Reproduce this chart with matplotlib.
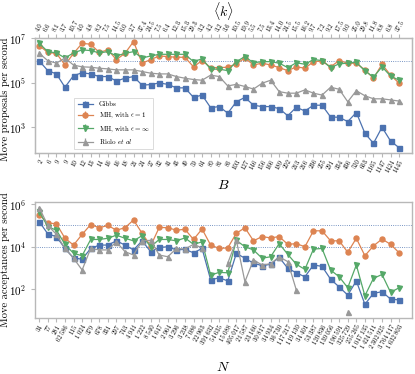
import numpy as np
import matplotlib
matplotlib.use("Agg")
import matplotlib.pyplot as plt

plt.rcParams['font.family'] = ['cmr10', 'DejaVu Serif']
plt.rcParams['mathtext.fontset'] = 'cm'
plt.rcParams['axes.formatter.use_mathtext'] = True

# --- tick labels ---
B_labels = ["2", "6", "9", "9", "10", "12", "13", "14", "16", "16",
            "18", "21", "24", "27", "32", "41", "43", "49", "59", "64",
            "80", "81", "86", "103", "127", "146", "156", "166", "189", "202",
            "213", "216", "236", "255", "291", "334", "436", "520", "663", "1165",
            "1147", "1424", "1445"]
k_labels = ["4.0", "6.6", "8.1", "3.7", "10.7", "4.0", "4.8", "8.2", "7.5", "14.5",
            "6.0", "2.7", "37.4", "24.5", "7.5", "6.4", "12.3", "15.3", "29.3", "3.2",
            "4.2", "3.2", "3.6", "10.5", "19.9", "5.5", "7.5", "13.4", "14.0", "24.5",
            "15.5", "16.2", "9.7", "7.2", "9.2", "17.5", "9.0", "25.0", "29.8", "11.8",
            "8.8", "6.8", "37.5"]
N_labels = ["34", "77", "281", "62\u2009586", "115", "1\u2009024", "379", "678", "331", "297",
            "743", "4\u2009941", "1\u2009222", "8\u2009540", "1\u2009647", "2\u2009964", "3\u2009296", "3\u2009238", "7\u2009086", "22\u2009963",
            "391\u2009632", "54\u2009635", "15\u2009088", "405\u2009017", "21\u2009587", "23\u2009166", "30\u2009817", "34\u2009934", "36\u2009730", "117\u2009217",
            "119\u2009130", "34\u2009401", "53\u2009387", "120\u2009836", "139\u2009056", "196\u2009591", "325\u2009729", "255\u2009265", "1\u2009047\u2009135", "1\u2009424\u2009511",
            "2\u2009302\u2009925", "3\u2009764\u2009117", "1\u2009632\u2009803"]

# --- move proposals per second ---
gibbs_prop = [9.5e5, 3.5e5, 2.5e5, 6.3e4, 2.1e5, 2.8e5, 2.5e5, 1.9e5, 1.9e5, 1.2e5,
              1.6e5, 1.9e5, 7.8e4, 8.3e4, 9.8e4, 8.5e4, 5.9e4, 5.9e4, 2.2e4, 2.8e4,
              7.6e3, 8.5e3, 4.3e3, 1.4e4, 2.2e4, 9.8e3, 8.5e3, 8.5e3, 6.9e3, 3.3e3,
              7.9e3, 5.4e3, 9.8e3, 9.8e3, 2.9e3, 2.8e3, 1.8e3, 4.6e3, 540, 190,
              1.0e3, 240, 120]
mh1_prop = [4.7e6, 2.3e6, 2.1e6, 6.3e5, 2.1e6, 5.9e6, 5.4e6, 2.3e6, 3.0e6, 1.1e6,
            2.1e6, 7.1e6, 7.6e5, 1.1e6, 1.6e6, 1.5e6, 1.4e6, 1.4e6, 5.2e5, 1.0e6,
            4.8e5, 4.8e5, 5.0e5, 7.1e5, 1.3e6, 6.3e5, 7.6e5, 6.3e5, 4.8e5, 3.5e5,
            5.2e5, 4.5e5, 8.9e5, 9.5e5, 5.2e5, 1.0e6, 7.6e5, 7.6e5, 3.8e5, 1.6e5,
            6.8e5, 2.2e5, 9.5e4]
mhinf_prop = [5.9e6, 2.5e6, 2.2e6, 1.3e6, 2.2e6, 3.0e6, 2.8e6, 2.2e6, 2.5e6, 1.6e6,
              2.1e6, 2.5e6, 1.3e6, 1.6e6, 1.9e6, 1.9e6, 1.9e6, 1.9e6, 8.9e5, 1.2e6,
              4.1e5, 4.1e5, 3.5e5, 8.9e5, 1.5e6, 7.9e5, 8.9e5, 8.9e5, 7.6e5, 4.8e5,
              7.9e5, 6.8e5, 1.1e6, 1.0e6, 4.8e5, 7.1e5, 7.6e5, 8.3e5, 3.4e5, 1.8e5,
              5.2e5, 2.0e5, 1.3e5]
riolo_prop = [2.1e6, 9.8e5, 7.6e5, 1.3e6, 6.2e5, 5.2e5, 5.0e5, 4.5e5, 4.2e5, 3.8e5,
              3.8e5, 3.8e5, 3.2e5, 2.7e5, 2.5e5, 2.5e5, 1.9e5, 1.6e5, 1.4e5, 1.3e5,
              2.2e5, 1.9e5, 7.2e4, 8.5e4, 6.8e4, 5.2e4, 9.5e4, 1.3e5, 4.0e4, 3.4e4,
              3.4e4, 4.8e4, 3.4e4, 2.8e4, 6.3e4, 5.1e4, 1.4e4, 4.4e4, 2.6e4, 1.9e4,
              1.9e4, 1.7e4, 1.5e4]

# --- move acceptances per second ---
gibbs_acc = [1.5e5, 4.0e4, 3.0e4, 8.3e3, 3.0e3, 2.6e3, 8.3e3, 1.2e4, 1.2e4, 1.9e4,
             1.2e4, 7.1e3, 1.9e4, 5.9e3, 9.3e3, 1.0e4, 7.1e3, 7.6e3, 5.2e3, 8.3e3,
             280, 350, 250, 4.9e3, 2.9e3, 1.7e3, 1.3e3, 1.5e3, 3.2e3, 980,
             600, 390, 1.4e3, 1.2e3, 300, 130, 54, 250, 20, 65,
             78, 35, 32]
mh1_acc = [3.1e5, 1.3e5, 1.2e5, 2.5e4, 1.2e4, 3.8e4, 1.1e5, 7.8e4, 1.0e5, 6.0e4,
           7.8e4, 1.8e5, 4.3e4, 1.1e4, 8.1e4, 7.8e4, 6.0e4, 6.6e4, 2.2e4, 6.8e4,
           1.2e4, 8.3e3, 8.9e3, 4.3e4, 7.8e4, 1.9e4, 3.0e4, 2.6e4, 3.0e4, 1.3e4,
           1.4e4, 1.0e4, 5.6e4, 5.6e4, 1.9e4, 1.9e4, 5.5e3, 2.5e4, 3.8e3, 1.1e4,
           2.3e4, 1.3e4, 5.2e3]
mhinf_acc = [4.4e5, 8.7e4, 6.0e4, 1.3e4, 4.9e3, 3.8e3, 2.2e4, 2.2e4, 2.5e4, 3.5e4,
             2.5e4, 1.9e4, 3.3e4, 1.0e4, 2.2e4, 2.2e4, 1.9e4, 2.6e4, 1.3e4, 1.7e4,
             470, 630, 600, 2.0e4, 1.0e4, 7.1e3, 2.9e3, 3.4e3, 1.4e4, 4.4e3,
             1.5e3, 870, 7.8e3, 8.3e3, 810, 390, 120, 1.4e3, 50, 330,
             500, 72, 120]
riolo_acc = [6.8e5, 1.0e5, 3.8e4, 8.3e3, 2.9e3, 810, 8.3e3, 7.1e3, 7.1e3, 1.7e4,
             5.9e3, 4.1e3, 1.9e4, 2.0e4, 4.1e3, 3.4e3, 8.3e3, 7.8e3, 1.3e4, 8.9e3,
             np.nan, np.nan, 1.7e3, 2.0e4, 230, 2.4e3, 1.4e3, 1.6e3, 3.4e3, 2.0e3,
             93, np.nan, np.nan, np.nan, np.nan, np.nan, 8.3, np.nan, np.nan, np.nan,
             np.nan, np.nan, np.nan]

names = ["Gibbs", r"MH, with $\epsilon=1$", r"MH, with $\epsilon=\infty$", r"Riolo $et$ $al$"]
colors = ["#4c72b0", "#dd8452", "#55a868", "#999999"]
markers = ["s", "o", "v", "^"]
spine_col = "#b8b8b8"

fig = plt.figure(figsize=(4.15, 3.74), dpi=100)
ax1 = fig.add_axes([0.0843, 0.591, 0.9085, 0.3067])
ax2 = fig.add_axes([0.0843, 0.1489, 0.9085, 0.3118])

x = np.arange(len(B_labels))


def draw(ax, series, hlines, ylim, yticks):
    for vals, name, c, m in zip(series, names, colors, markers):
        ax.errorbar(x, vals, yerr=0, color=c, marker=m, markersize=3.6,
                    lw=0.9, elinewidth=0.9, label=name)
    for h in hlines:
        ax.axhline(h, color="#4c72b0", lw=0.6, ls=":", zorder=0)
    ax.set_yscale("log")
    ax.set_ylim(*ylim)
    ax.set_yticks(yticks)
    ax.yaxis.set_minor_locator(matplotlib.ticker.NullLocator())
    ax.set_xlim(-0.5, len(x) + 0.5)
    ax.set_xticks(x)
    for s in ax.spines.values():
        s.set_color(spine_col)
        s.set_linewidth(1.0)
    ax.tick_params(axis="y", labelsize=8, color=spine_col, length=3)
    ax.tick_params(axis="x", labelsize=4.8, color=spine_col, length=3, pad=1)


draw(ax1, [gibbs_prop, mh1_prop, mhinf_prop, riolo_prop], [1e6], (70, 1e7), [1e3, 1e5, 1e7])
draw(ax2, [gibbs_acc, mh1_acc, mhinf_acc, riolo_acc], [1e5, 1e4], (4.4, 1.3e6), [1e2, 1e4, 1e6])

ax1.set_xticklabels(B_labels, rotation=60, ha="right", rotation_mode="anchor")
ax2.set_xticklabels(N_labels, rotation=60, ha="right", rotation_mode="anchor")

# top axis with mean degree
top = ax1.twiny()
top.set_xlim(ax1.get_xlim())
top.set_xticks(x)
top.set_xticklabels(k_labels, rotation=60, ha="left", rotation_mode="anchor")
top.tick_params(axis="x", labelsize=4.8, color=spine_col, length=3, pad=1)
for s in top.spines.values():
    s.set_color(spine_col)
top.set_xlabel(r"$\langle k\rangle$", fontsize=10, labelpad=2)

ax1.set_xlabel("$B$", fontsize=10, labelpad=4)
ax2.set_xlabel("$N$", fontsize=10, labelpad=8)
ax1.set_ylabel("Move proposals per second", fontsize=7.6)
ax2.set_ylabel("Move acceptances per second", fontsize=7.6)
ax1.yaxis.set_label_coords(-0.066, 0.47)
ax2.yaxis.set_label_coords(-0.066, 0.5)

leg = ax1.legend(loc="lower left", bbox_to_anchor=(0.095, 0.0), fontsize=5,
                 frameon=True, fancybox=False, edgecolor="#cccccc",
                 handlelength=2.2, borderpad=0.5, labelspacing=0.5)
leg.get_frame().set_linewidth(0.6)

fig.savefig("out.png", dpi=100)
